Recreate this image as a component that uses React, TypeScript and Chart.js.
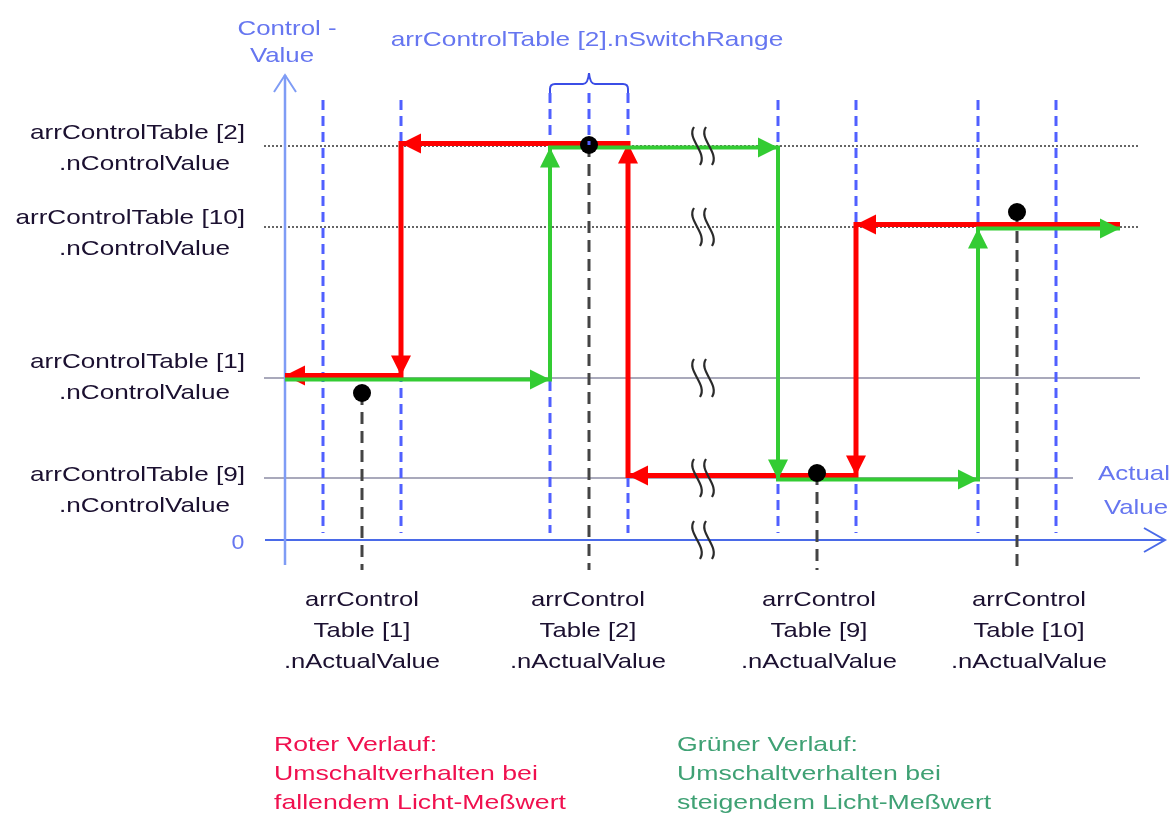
import React, { useEffect, useRef } from 'react';
import { Chart, registerables } from 'chart.js';

Chart.register(...registerables);

// ---------- data ----------
// tables: [1], [2], [9], [10]
const tableNames = ['[1]', '[2]', '[9]', '[10]'];
const actualValues = [7.7, 30.4, 53.2, 73.2];
const controlValues = [16.2, 39.4, 6.2, 31.3];
const switchRange = 3.9;
const measuredPointY = [14.7, 39.5, 6.7, 32.8];

// falling (red) and rising (green) switching paths
const redPathX = [83.5, 57.1, 57.1, 34.3, 34.3, 11.6, 11.6, 0];
const redPathY = [31.3, 31.3, 6.2, 6.2, 39.4, 39.4, 16.2, 16.2];
const greenPathX = [0, 26.5, 26.5, 49.3, 49.3, 69.3, 69.3, 83.5];
const greenPathY = [16.2, 16.2, 39.4, 39.4, 6.2, 6.2, 31.3, 31.3];

// reference level lines (per table)
const levelLineEnd = [85.5, 85.5, 78.8, 85.5];
const levelLineDotted = [false, true, false, true];

// label anchors
const leftLabelY = [17.8, 40.7, 6.5, 32.2];
const bottomLabelX = [7.7, 30.3, 53.4, 74.4];
const bottomLabelY = [-6.0, -9.1, -12.2];
const breakX = [41.2, 42.4];

const redNote = ['Roter Verlauf:', 'Umschaltverhalten bei', 'fallendem Licht-Meßwert'];
const greenNote = ['Grüner Verlauf:', 'Umschaltverhalten bei', 'steigendem Licht-Meßwert'];

// ---------- styles ----------
const FONT = '"Liberation Sans", Arial, sans-serif';
const BLUE_TEXT = '#6676f0';
const DARK_TEXT = '#1b1030';
const DASH_BLUE = '#5060ff';

function drawText(ctx: any, text: string, x: number, y: number, o: any) {
  const size = o.size || 21;
  const sx = o.sx || 1.23;
  ctx.save();
  ctx.font = `${size}px ${FONT}`;
  ctx.fillStyle = o.color;
  ctx.textBaseline = 'middle';
  ctx.textAlign = 'left';
  const w = ctx.measureText(text).width * sx;
  let left = x;
  if (o.align === 'center') left = x - w / 2;
  else if (o.align === 'right') left = x - w;
  ctx.translate(left, y);
  ctx.scale(sx, 1);
  ctx.fillText(text, 0, 0);
  ctx.restore();
}

function arrowHead(ctx: any, a: any, b: any, color: string, L: number, W: number) {
  const ang = Math.atan2(b.y - a.y, b.x - a.x);
  const c = Math.cos(ang);
  const s = Math.sin(ang);
  ctx.save();
  ctx.fillStyle = color;
  ctx.beginPath();
  ctx.moveTo(b.x, b.y);
  ctx.lineTo(b.x - L * c + W * s, b.y - L * s - W * c);
  ctx.lineTo(b.x - L * c - W * s, b.y - L * s + W * c);
  ctx.closePath();
  ctx.fill();
  ctx.restore();
}

const diagramPlugin: any = {
  id: 'diagram',
  beforeDatasetDraw(chart: any, args: any) {
    const ds = chart.data.datasets[args.index];
    if (ds.pixelShift) {
      chart.ctx.save();
      chart.ctx.translate(0, ds.pixelShift);
    }
  },
  afterDatasetDraw(chart: any, args: any) {
    const ds = chart.data.datasets[args.index];
    const ctx = chart.ctx;
    if (ds.arrowHeads) {
      const pts = args.meta.data;
      for (let i = 1; i < pts.length; i++) {
        arrowHead(ctx, pts[i - 1], pts[i], ds.borderColor, 20, 10);
      }
    }
    if (ds.pixelShift) ctx.restore();
  },
  afterDraw(chart: any) {
    const ctx = chart.ctx;
    const xs = chart.scales.x;
    const ys = chart.scales.y;
    const px = (v: number) => xs.getPixelForValue(v);
    const py = (v: number) => ys.getPixelForValue(v);

    // axis arrow heads (open chevrons)
    ctx.save();
    ctx.lineWidth = 2;
    ctx.strokeStyle = '#7f9cf5';
    const yt = { x: px(0), y: py(46.5) };
    ctx.beginPath();
    ctx.moveTo(yt.x - 11, yt.y + 17);
    ctx.lineTo(yt.x, yt.y);
    ctx.lineTo(yt.x + 11, yt.y + 17);
    ctx.stroke();
    ctx.strokeStyle = '#4a6ae8';
    const xt = { x: px(88), y: py(0) };
    ctx.beginPath();
    ctx.moveTo(xt.x - 21, xt.y - 12);
    ctx.lineTo(xt.x, xt.y);
    ctx.lineTo(xt.x - 21, xt.y + 12);
    ctx.stroke();
    ctx.restore();

    // brace over switch range of table [2]
    const a2 = actualValues[1];
    const xl = px(a2 - switchRange);
    const xr = px(a2 + switchRange);
    const xc = px(a2);
    const yb = py(44.7);
    const yh = yb - 9;
    const ytop = yb - 20;
    ctx.save();
    ctx.strokeStyle = '#3b4de6';
    ctx.lineWidth = 2;
    ctx.beginPath();
    ctx.moveTo(xl, yb);
    ctx.lineTo(xl, yh + 5);
    ctx.quadraticCurveTo(xl, yh, xl + 5, yh);
    ctx.lineTo(xc - 6, yh);
    ctx.quadraticCurveTo(xc - 1, yh, xc, ytop);
    ctx.quadraticCurveTo(xc + 1, yh, xc + 6, yh);
    ctx.lineTo(xr - 5, yh);
    ctx.quadraticCurveTo(xr, yh, xr, yh + 5);
    ctx.lineTo(xr, yb);
    ctx.stroke();
    ctx.restore();

    // axis break marks
    ctx.save();
    ctx.strokeStyle = '#2a2a2a';
    ctx.lineWidth = 2.2;
    [...controlValues, 0].forEach((lv) => {
      const y = py(lv);
      breakX.forEach((bx) => {
        const x = px(bx);
        ctx.beginPath();
        ctx.moveTo(x - 3, y - 19);
        ctx.bezierCurveTo(x - 11, y - 7, x + 11, y + 6, x + 3, y + 19);
        ctx.stroke();
      });
    });
    ctx.restore();

    // titles
    drawText(ctx, 'Control -', 287, 29, { color: BLUE_TEXT, align: 'center' });
    drawText(ctx, 'Value', 282, 56, { color: BLUE_TEXT, align: 'center' });
    drawText(ctx, 'arrControlTable [2].nSwitchRange', 587, 40, { color: BLUE_TEXT, align: 'center', sx: 1.25 });
    drawText(ctx, '0', px(-4.7), py(0) + 3, { color: BLUE_TEXT, align: 'center', sx: 1.1 });
    drawText(ctx, 'Actual', 1134, 474, { color: BLUE_TEXT, align: 'center' });
    drawText(ctx, 'Value', 1136, 508, { color: BLUE_TEXT, align: 'center' });

    // left labels
    tableNames.forEach((n, i) => {
      const y1 = py(leftLabelY[i]);
      drawText(ctx, `arrControlTable ${n}`, px(-4.0), y1, { color: DARK_TEXT, align: 'right', sx: 1.245 });
      drawText(ctx, '.nControlValue', px(-5.5), y1 + 31, { color: DARK_TEXT, align: 'right', sx: 1.245 });
    });

    // bottom labels
    tableNames.forEach((n, i) => {
      const x = px(bottomLabelX[i]);
      const lines = ['arrControl', `Table ${n}`, '.nActualValue'];
      lines.forEach((t, k) => {
        drawText(ctx, t, x, py(bottomLabelY[k]), { color: DARK_TEXT, align: 'center', sx: 1.22 });
      });
    });

    // notes
    redNote.forEach((t, k) => drawText(ctx, t, 274, 745 + k * 29, { color: '#f0104f', sx: 1.27 }));
    greenNote.forEach((t, k) => drawText(ctx, t, 677, 745 + k * 29, { color: '#3fa174', sx: 1.27 }));
  },
};

function line(points: any[], color: string, width: number, order: number, dash?: number[]) {
  return {
    data: points,
    showLine: true,
    borderColor: color,
    borderWidth: width,
    borderDash: dash || [],
    pointRadius: 0,
    fill: false,
    tension: 0,
    order,
  };
}

export default function App() {
  const ref = useRef<HTMLCanvasElement | null>(null);

  useEffect(() => {
    document.body.style.margin = '0';
    document.body.style.overflow = 'hidden';
    const canvas = ref.current;
    if (!canvas) return;

    const datasets: any[] = [];

    // measured points
    datasets.push({
      data: actualValues.map((x, i) => ({ x, y: measuredPointY[i] })),
      showLine: false,
      pointRadius: 9,
      pointBackgroundColor: '#000',
      pointBorderWidth: 0,
      order: 0,
    });

    // blue dashed centre line above the point of table [2]
    datasets.push(
      line(
        [
          { x: actualValues[1], y: 44.7 },
          { x: actualValues[1], y: measuredPointY[1] },
        ],
        DASH_BLUE,
        3,
        -1,
        [10, 6]
      )
    );

    // switching paths
    const green: any = line(greenPathX.map((x, i) => ({ x, y: greenPathY[i] })), '#33cc33', 4, 1);
    green.arrowHeads = true;
    green.pixelShift = 1.5;
    green.borderJoinStyle = 'miter';
    datasets.push(green);
    const red: any = line(redPathX.map((x, i) => ({ x, y: redPathY[i] })), '#ff0000', 5, 2);
    red.arrowHeads = true;
    red.pixelShift = -2.5;
    red.borderJoinStyle = 'miter';
    datasets.push(red);

    // black dashed lines from measured points down
    actualValues.forEach((x, i) => {
      datasets.push(
        line(
          [
            { x, y: measuredPointY[i] },
            { x, y: -3 },
          ],
          '#444444',
          3,
          3,
          [12, 7]
        )
      );
    });

    // switch range boundaries
    actualValues.forEach((x, i) => {
      const top = i === 1 ? 44.7 : 44.0;
      [-1, 1].forEach((sgn) => {
        datasets.push(
          line(
            [
              { x: x + sgn * switchRange, y: top },
              { x: x + sgn * switchRange, y: 0.7 },
            ],
            DASH_BLUE,
            3,
            4,
            [10, 6]
          )
        );
      });
    });

    // axes
    datasets.push(line([{ x: 0, y: -2.5 }, { x: 0, y: 46.5 }], '#7f9cf5', 2.5, 5));
    datasets.push(line([{ x: -2, y: 0 }, { x: 88, y: 0 }], '#4a6ae8', 2, 5));

    // control value level lines
    controlValues.forEach((v, i) => {
      if (levelLineDotted[i]) {
        datasets.push(line([{ x: -2.1, y: v }, { x: levelLineEnd[i], y: v }], '#333333', 1.5, 6, [2, 2]));
      } else {
        datasets.push(line([{ x: -2.1, y: v }, { x: levelLineEnd[i], y: v }], '#8c8ca4', 1.5, 6));
      }
    });

    const chart = new Chart(canvas, {
      type: 'scatter',
      data: { datasets },
      options: {
        animation: false,
        responsive: false,
        maintainAspectRatio: false,
        events: [],
        layout: { padding: 0, autoPadding: false },
        plugins: { legend: { display: false }, tooltip: { enabled: false } },
        scales: {
          x: { type: 'linear', display: false, min: -28.5, max: 89 },
          y: { type: 'linear', display: false, min: -27.8, max: 54 },
        },
      } as any,
      plugins: [diagramPlugin],
    });

    return () => chart.destroy();
  }, []);

  return (
    <canvas
      ref={ref}
      width={1175}
      height={818}
      style={{ display: 'block', width: '1175px', height: '818px', background: '#fff' }}
    />
  );
}
